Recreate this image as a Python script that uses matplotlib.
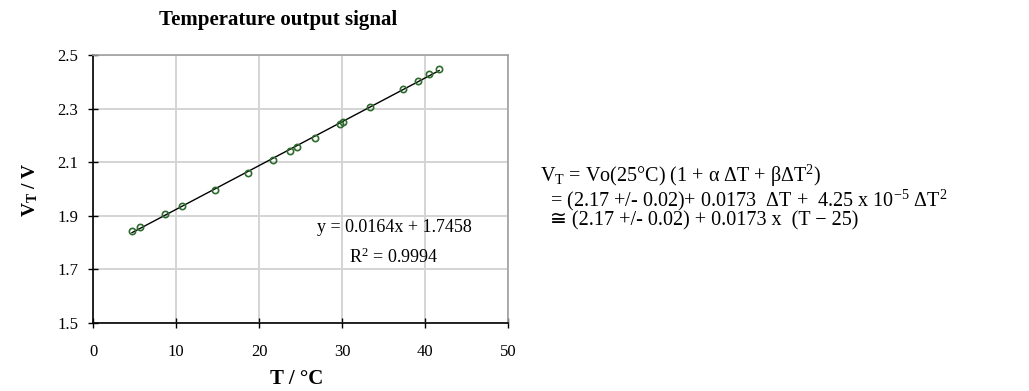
import numpy as np
import matplotlib
matplotlib.use("Agg")
import matplotlib.pyplot as plt

# Data
temperature = [4.7, 5.7, 8.7, 10.7, 14.7, 18.7, 21.7, 23.7, 24.6, 26.7,
               29.8, 30.1, 33.4, 37.4, 39.2, 40.5, 41.7]
voltage = [1.844, 1.859, 1.906, 1.937, 1.997, 2.060, 2.108, 2.141, 2.156, 2.191,
           2.243, 2.251, 2.308, 2.375, 2.404, 2.428, 2.450]
x_ticks = [0, 10, 20, 30, 40, 50]
y_ticks = [1.5, 1.7, 1.9, 2.1, 2.3, 2.5]
fit_label = "y = 0.0164x + 1.7458"
r2_label = "R$^2$ = 0.9994"
equation_lines = [
    r"V$_\mathrm{T}$ = Vo(25°C) (1 + α ΔT + βΔT$^2$)",
    r"  = (2.17 +/- 0.02)+ 0.0173  ΔT +  4.25 x 10$^{-5}$ ΔT$^2$",
    r"  ≅ (2.17 +/- 0.02) + 0.0173 x  (T − 25)",
]

families = ['Liberation Serif', 'DejaVu Serif', 'DejaVu Sans']
plt.rcParams['font.family'] = families
plt.rcParams['mathtext.fontset'] = 'custom'
plt.rcParams['mathtext.rm'] = 'Liberation Serif'
plt.rcParams['mathtext.it'] = 'Liberation Serif:italic'
plt.rcParams['mathtext.bf'] = 'Liberation Serif:bold'

fig = plt.figure(figsize=(10.29, 3.91), dpi=100)
ax = fig.add_axes([0.0904, 0.1747, 0.4033, 0.6843])

ax.set_xlim(0, 50)
ax.set_ylim(1.5, 2.5)
ax.set_xticks(x_ticks)
ax.set_yticks(y_ticks)
ax.set_yticklabels([f"{v:.1f}" for v in y_ticks])
ax.grid(True, color='#d4d4d4', linewidth=1.4)
ax.set_axisbelow(True)

for s in ['top', 'right']:
    ax.spines[s].set_color('#a0a0a0')
    ax.spines[s].set_linewidth(1.2)
for s in ['left', 'bottom']:
    ax.spines[s].set_color('black')
    ax.spines[s].set_linewidth(1.2)

ax.tick_params(axis='both', direction='inout', length=7, width=1.0, labelsize=12)
ax.tick_params(axis='y', pad=7)
ax.tick_params(axis='x', pad=12)

t = np.array(temperature)
v = np.array(voltage)
slope, intercept = np.polyfit(t, v, 1)
xl = np.array([t.min(), t.max()])
ax.plot(xl, slope * xl + intercept, color='black', linewidth=1.0, zorder=2)
ax.plot(t, v, 'o', markersize=4.5, markerfacecolor='none',
        markeredgecolor='#2e6b2e', markeredgewidth=1.2, zorder=3)

ax.text(0.725, 0.357, fit_label, transform=ax.transAxes, ha='center', va='center', fontsize=13)
ax.text(0.725, 0.245, r2_label, transform=ax.transAxes, ha='center', va='center', fontsize=13)

fig.text(278 / 1029, 1 - 20 / 391, "Temperature output signal", ha='center', va='center',
         fontsize=15, fontweight='bold')
fig.text(297 / 1029, 1 - 379 / 391, "T / °C", ha='center', va='center',
         fontsize=15, fontweight='bold')
fig.text(30 / 1029, 1 - 190 / 391, r"$\mathbf{V_T}$ / V", ha='center', va='center',
         fontsize=14, fontweight='bold', rotation=90)

fig.text(540 / 1029, 1 - 197 / 391, "\n".join(equation_lines), ha='left', va='center',
         ma='left', fontsize=14.5, linespacing=0.9)

fig.savefig("out.png", dpi=100)
